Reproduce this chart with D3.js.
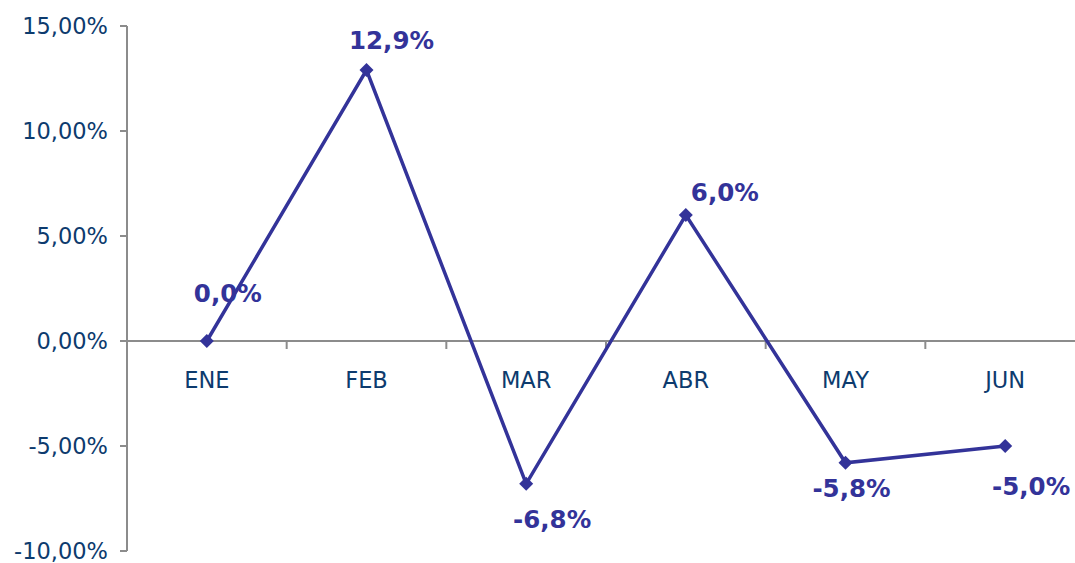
<!DOCTYPE html>
<html><head><meta charset="utf-8">
<script src="https://cdn.jsdelivr.net/npm/d3@7"></script>
<style>
body{margin:0;background:#fff;}
svg{display:block;font-family:"DejaVu Sans",Verdana,sans-serif;}
</style></head>
<body><svg id="c" width="1075" height="563"></svg>
<script>
const categories = ["ENE","FEB","MAR","ABR","MAY","JUN"];
const values = [0.0, 12.9, -6.8, 6.0, -5.8, -5.0];
const valueLabels = ["0,0%","12,9%","-6,8%","6,0%","-5,8%","-5,0%"];
const yTicks = [15, 10, 5, 0, -5, -10];
const yTickLabels = ["15,00%","10,00%","5,00%","0,00%","-5,00%","-10,00%"];
// label offsets (styling)
const labelDx = [21, 25, 26, 39, 6, 26];
const labelDy = [-39, -21, 44, -14, 34, 49];

(function(){
const svg = d3.select("#c");
const pLeft = 127, pRight = 1085, pTop = 26, pBottom = 551;
const x = d3.scaleBand().domain(categories).range([pLeft, pRight]);
const y = d3.scaleLinear().domain([-10, 15]).range([pBottom, pTop]);
const axisColor = "#8c8c8c", textColor = "#0d3b6e", lineColor = "#333399";

// y axis
svg.append("line").attr("x1", pLeft).attr("x2", pLeft).attr("y1", y(15)).attr("y2", y(-10))
  .attr("stroke", axisColor).attr("stroke-width", 2);
yTicks.forEach((t, i) => {
  svg.append("line").attr("x1", pLeft - 7).attr("x2", pLeft).attr("y1", y(t)).attr("y2", y(t))
    .attr("stroke", axisColor).attr("stroke-width", 2);
  svg.append("text").attr("x", 108).attr("y", y(t)).attr("dy", "0.37em")
    .attr("text-anchor", "end").attr("font-size", 22.5).attr("fill", textColor).text(yTickLabels[i]);
});

// x axis at zero
svg.append("line").attr("x1", pLeft).attr("x2", pRight).attr("y1", y(0)).attr("y2", y(0))
  .attr("stroke", axisColor).attr("stroke-width", 2);
categories.forEach((c, i) => {
  const xe = x(c) + x.bandwidth();
  svg.append("line").attr("x1", xe).attr("x2", xe).attr("y1", y(0)).attr("y2", y(0) + 8)
    .attr("stroke", axisColor).attr("stroke-width", 2);
  svg.append("text").attr("x", x(c) + x.bandwidth() / 2).attr("y", 388)
    .attr("text-anchor", "middle").attr("font-size", 22.5).attr("fill", textColor).text(c);
});

// line
const cx = (c) => x(c) + x.bandwidth() / 2;
const line = d3.line().x((d, i) => cx(categories[i])).y(d => y(d));
svg.append("path").datum(values).attr("d", line).attr("fill", "none")
  .attr("stroke", lineColor).attr("stroke-width", 3.5).attr("stroke-linejoin", "miter");

// markers
svg.selectAll(".m").data(values).enter().append("path")
  .attr("transform", (d, i) => `translate(${cx(categories[i])},${y(d)})`)
  .attr("d", "M0,-7L7,0L0,7L-7,0Z").attr("fill", lineColor);

// labels
svg.selectAll(".l").data(values).enter().append("text")
  .attr("x", (d, i) => cx(categories[i]) + labelDx[i])
  .attr("y", (d, i) => y(d) + labelDy[i])
  .attr("text-anchor", "middle").attr("font-size", 24.5).attr("font-weight", "bold")
  .attr("fill", lineColor).text((d, i) => valueLabels[i]);
})();
</script></body></html>
